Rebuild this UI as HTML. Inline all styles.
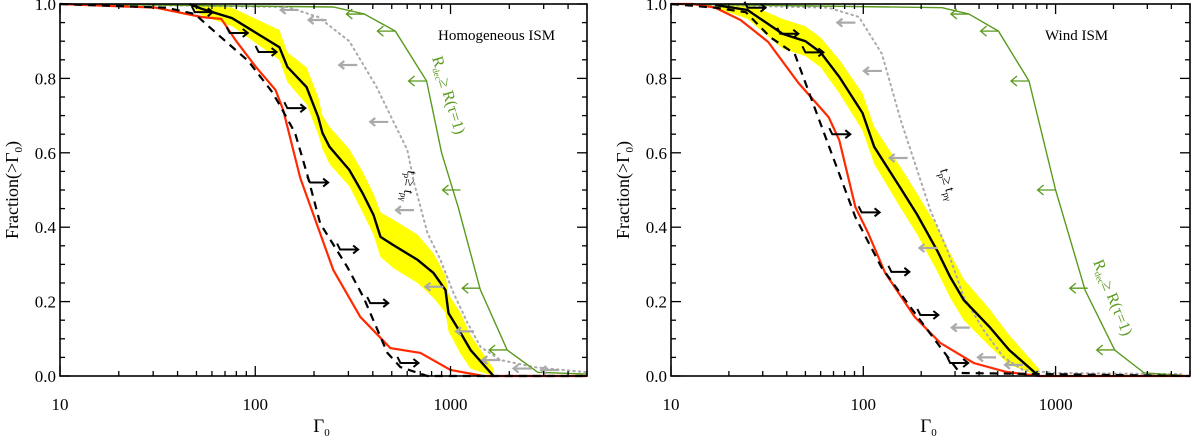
<!DOCTYPE html>
<html><head><meta charset="utf-8"><style>
html,body{margin:0;padding:0;background:#fff;}
svg{display:block;font-family:"Liberation Serif",serif;}
</style></head><body>
<svg id="chart" width="1200" height="436" viewBox="0 0 1200 436" xmlns="http://www.w3.org/2000/svg"></svg>
<script>
// ---------- LEFT PANEL DATA (Homogeneous ISM) ----------
const L_medG=[46,53,76,133,146,183,210,221,240,303,354,403,438,510,678,818,943,977,1125,1267,1660];
const L_medF=[1.0,0.987,0.962,0.884,0.831,0.777,0.696,0.653,0.616,0.554,0.492,0.433,0.374,0.352,0.312,0.277,0.231,0.169,0.116,0.07,0.0];
const L_bandHi=[1.0,1.0,0.99,0.93,0.87,0.83,0.75,0.70,0.67,0.61,0.55,0.49,0.44,0.42,0.38,0.33,0.27,0.22,0.17,0.11,0.02];
const L_bandLo=[1.0,0.97,0.94,0.85,0.79,0.73,0.65,0.61,0.57,0.51,0.44,0.38,0.32,0.29,0.25,0.21,0.17,0.12,0.06,0.02,0.0];
const L_redG=[10,31,53,67,80,101,127,139,170,251,345,492,701,1000,1476,5000];
const L_redF=[1.0,0.99,0.965,0.96,0.90,0.83,0.769,0.715,0.532,0.285,0.159,0.075,0.062,0.016,0.0,0.0];
const L_dashG=[10,35,49,64,92,121,133,160,185,215,296,358,438,475,554,762,5000];
const L_dashF=[1.0,0.99,0.973,0.919,0.847,0.766,0.73,0.653,0.54,0.41,0.293,0.212,0.105,0.062,0.024,0.0,0.0];
const L_dotG=[10,146,210,303,418,497,601,650,762,889,1035,1222,1425,1803,2667,5000];
const L_dotF=[1.0,0.992,0.965,0.90,0.777,0.696,0.608,0.52,0.384,0.312,0.224,0.143,0.078,0.043,0.024,0.01];
const L_greenG=[10,251,362,522,754,900,1100,1420,1950,2800,5000];
const L_greenF=[1.0,0.992,0.973,0.927,0.793,0.60,0.45,0.232,0.07,0.01,0.005];
const L_blkArrG=[49,74,104,146,191,272,388,554];
const L_blkArrF=[0.978,0.922,0.871,0.72,0.52,0.34,0.196,0.035];
const L_grayArrG=[167,232,333,480,650,920,1320,1800,2600,3600];
const L_grayArrF=[0.984,0.957,0.836,0.683,0.446,0.24,0.12,0.043,0.02,0.016];
const L_grnArrG=[362,522,754,1125,1420,1950];
const L_grnArrF=[0.973,0.927,0.793,0.5,0.236,0.07];
// ---------- RIGHT PANEL DATA (Wind ISM) ----------
const R_medG=[17,25,38,50,60,75,99,114,157,191,243,283,333,453,574,818];
const R_medF=[0.997,0.984,0.92,0.90,0.87,0.804,0.707,0.616,0.503,0.433,0.336,0.266,0.204,0.132,0.07,0.0];
const R_bandHi=[1,1,0.96,0.94,0.91,0.85,0.76,0.67,0.56,0.49,0.40,0.33,0.26,0.18,0.11,0.02];
const R_bandLo=[0.99,0.96,0.88,0.86,0.83,0.76,0.66,0.57,0.45,0.38,0.28,0.21,0.15,0.08,0.03,0];
const R_redG=[10,13,17,23,32,46,66,75,91,106,130,185,251,375,554,818,5000];
const R_redF=[1.0,1.0,0.99,0.957,0.898,0.788,0.696,0.634,0.454,0.384,0.277,0.159,0.089,0.035,0.011,0.0,0.0];
const R_dashG=[10,17,24.5,33,44,55,66,91,124,176,251,318,5000];
const R_dashF=[1.0,0.99,0.978,0.91,0.866,0.73,0.62,0.427,0.293,0.185,0.078,0.008,0.0];
const R_dotG=[10,66,95,125,157,176,223,273,333,422,535,677,1000,4500];
const R_dotF=[1.0,0.99,0.965,0.866,0.685,0.608,0.446,0.339,0.212,0.124,0.051,0.016,0.008,0.005];
const R_greenG=[10,257,354,505,727,1000,1425,2030,2890,5000];
const R_greenF=[1.0,0.99,0.973,0.927,0.793,0.50,0.23,0.07,0.008,0.0];
const R_blkArrG=[25,37,50,69,98,140,198,283];
const R_blkArrF=[0.99,0.92,0.87,0.65,0.44,0.28,0.164,0.035];
const R_grayArrG=[91,125,170,243,358,490,677];
const R_grayArrF=[0.95,0.82,0.586,0.344,0.13,0.05,0.03];
const R_grnArrG=[354,505,727,1000,1470,2030];
const R_grnArrF=[0.973,0.927,0.793,0.5,0.236,0.07];
// ---------- AXES ----------
const yTickVals=[0.0,0.2,0.4,0.6,0.8,1.0];
const yTickLabels=["0.0","0.2","0.4","0.6","0.8","1.0"];
const xTickVals=[10,100,1000];
const xTickLabels=["10","100","1000"];

const NS="http://www.w3.org/2000/svg";
const svg=document.getElementById('chart');
function el(tag,attrs,parent){const e=document.createElementNS(NS,tag);for(const k in attrs)e.setAttribute(k,attrs[k]);(parent||svg).appendChild(e);return e;}

function panel(p){
  const g=el('g',{});
  
  
  const X=v=>p.x0+(p.x1-p.x0)*(Math.log10(v)-1)/(Math.log10(p.xmax)-1);
  const Y=f=>p.y0-(p.y0-p.y1)*f;
  const pts=(G,F)=>G.map((v,i)=>X(v).toFixed(1)+','+Y(F[i]).toFixed(1)).join(' ');
  // band
  let bp=p.medG.map((v,i)=>X(v).toFixed(1)+','+Y(p.hi[i]).toFixed(1));
  for(let i=p.medG.length-1;i>=0;i--)bp.push(X(p.medG[i]).toFixed(1)+','+Y(p.lo[i]).toFixed(1));
  const band=el('polygon',{points:bp.join(' '),fill:'#ffff00',stroke:'none'},g);
  
  
  const dot=el('polyline',{points:pts(p.dotG,p.dotF),fill:'none',stroke:'#aaaaaa','stroke-width':2,'stroke-dasharray':'1.5 4','stroke-linecap':'round'},g);
  
  
  const grn=el('polyline',{points:pts(p.grnG,p.grnF),fill:'none',stroke:'#5a9a1e','stroke-width':1.4},g);
  
  
  const red=el('polyline',{points:pts(p.redG,p.redF),fill:'none',stroke:'#ff2a00','stroke-width':2.2},g);
  
  
  const dash=el('polyline',{points:pts(p.dashG,p.dashF),fill:'none',stroke:'#000','stroke-width':2.2,'stroke-dasharray':'8 6'},g);
  
  
  const med=el('polyline',{points:pts(p.medG,p.medF),fill:'none',stroke:'#000','stroke-width':2.4},g);
  
  
  // arrows
  p.baG.forEach((v,i)=>{const x=X(v),y=Y(p.baF[i]);
    const a=el('path',{d:`M${x-3},${y-6} L${x},${y} L${x+18},${y} M${x+13},${y-4} L${x+18},${y} L${x+13},${y+4}`,fill:'none',stroke:'#000','stroke-width':2},g);
    
    });
  p.gaG.forEach((v,i)=>{const x=X(v),y=Y(p.gaF[i]);
    const a=el('path',{d:`M${x},${y} L${x-18},${y} M${x-13},${y-4} L${x-18},${y} L${x-13},${y+4}`,fill:'none',stroke:'#aaaaaa','stroke-width':2.2},g);
    
    });
  p.naG.forEach((v,i)=>{const x=X(v),y=Y(p.naF[i]);
    const a=el('path',{d:`M${x},${y} L${x-18},${y} M${x-12},${y-5} L${x-18},${y} L${x-12},${y+5}`,fill:'none',stroke:'#5a9a1e','stroke-width':1.3},g);
    
    });
  // frame
  const fr=el('rect',{x:p.x0,y:p.y1,width:p.x1-p.x0,height:p.y0-p.y1,fill:'none',stroke:'#000','stroke-width':1.6},g);
  
  
  // y ticks
  for(let k=0;k<=20;k++){const f=k*0.05,y=Y(f),len=(k%4===0)?10:5;
    el('line',{x1:p.x0,y1:y,x2:p.x0+len,y2:y,stroke:'#000','stroke-width':1.3},g);
    el('line',{x1:p.x1,y1:y,x2:p.x1-len,y2:y,stroke:'#000','stroke-width':1.3},g);}
  yTickVals.forEach((v,i)=>{const t=el('text',{x:p.x0-4,y:Y(v)+6,'text-anchor':'end','font-size':17},g);t.textContent=yTickLabels[i];
    
    });
  // x ticks
  for(let d=10;d<p.xmax;d*=10){for(let m=1;m<10;m++){const v=d*m;if(v>p.xmax)break;const x=X(v),len=(m===1)?10:5;
    el('line',{x1:x,y1:p.y0,x2:x,y2:p.y0-len,stroke:'#000','stroke-width':1.3},g);
    el('line',{x1:x,y1:p.y1,x2:x,y2:p.y1+len,stroke:'#000','stroke-width':1.3},g);}}
  xTickVals.forEach((v,i)=>{const t=el('text',{x:X(v),y:p.y0+34,'text-anchor':'middle','font-size':17},g);t.textContent=xTickLabels[i];
    
    });
  const xt=el('text',{x:(p.x0+p.x1)/2-2,y:p.y0+56,'text-anchor':'middle','font-size':19},g);
  xt.innerHTML='Γ<tspan font-size="11" dy="4">0</tspan>';
  
  
  const yt=el('text',{x:0,y:0,'text-anchor':'middle','font-size':18,transform:`translate(${p.x0-42},190) rotate(-90)`},g);
  yt.innerHTML='Fraction(&gt;Γ<tspan font-size="11" dy="4">0</tspan><tspan dy="-4">)</tspan>';
  
  
  const ti=el('text',{x:p.titleX,y:40,'font-size':15},g);ti.textContent=p.title;
  
  
  const gl=el('text',{x:0,y:0,'font-size':16,fill:'#5a9a1e',transform:`translate(${p.gl[0]},${p.gl[1]}) rotate(${p.gl[2]})`},g);
  gl.innerHTML='R<tspan font-size="9" dy="3">dec</tspan><tspan dy="-3">≥ R(τ=1)</tspan>';
  
  
  const tl=el('text',{x:0,y:0,'font-size':14,fill:'#000',transform:`translate(${p.tl[0]},${p.tl[1]}) rotate(${p.tl[2]})`},g);
  tl.innerHTML='t<tspan font-size="9" dy="3">p</tspan><tspan dy="-3">≥ t</tspan><tspan font-size="9" dy="3">pγ</tspan>';
  
  
}
panel({name:'homogeneous-ism-panel',x0:60,x1:587,y0:376,y1:4,xmax:5000,
  medG:L_medG,medF:L_medF,hi:L_bandHi,lo:L_bandLo,redG:L_redG,redF:L_redF,dashG:L_dashG,dashF:L_dashF,
  dotG:L_dotG,dotF:L_dotF,grnG:L_greenG,grnF:L_greenF,baG:L_blkArrG,baF:L_blkArrF,gaG:L_grayArrG,gaF:L_grayArrF,
  naG:L_grnArrG,naF:L_grnArrF,title:'Homogeneous ISM',titleX:438,gl:[432,58,73],tl:[408,170,100]});
panel({name:'wind-ism-panel',x0:671,x1:1190,y0:376,y1:4,xmax:5000,
  medG:R_medG,medF:R_medF,hi:R_bandHi,lo:R_bandLo,redG:R_redG,redF:R_redF,dashG:R_dashG,dashF:R_dashF,
  dotG:R_dotG,dotF:R_dotF,grnG:R_greenG,grnF:R_greenF,baG:R_blkArrG,baF:R_blkArrF,gaG:R_grayArrG,gaF:R_grayArrF,
  naG:R_grnArrG,naF:R_grnArrF,title:'Wind ISM',titleX:1045,gl:[1093,262,68],tl:[940,170,75]});
</script>
</body></html>
